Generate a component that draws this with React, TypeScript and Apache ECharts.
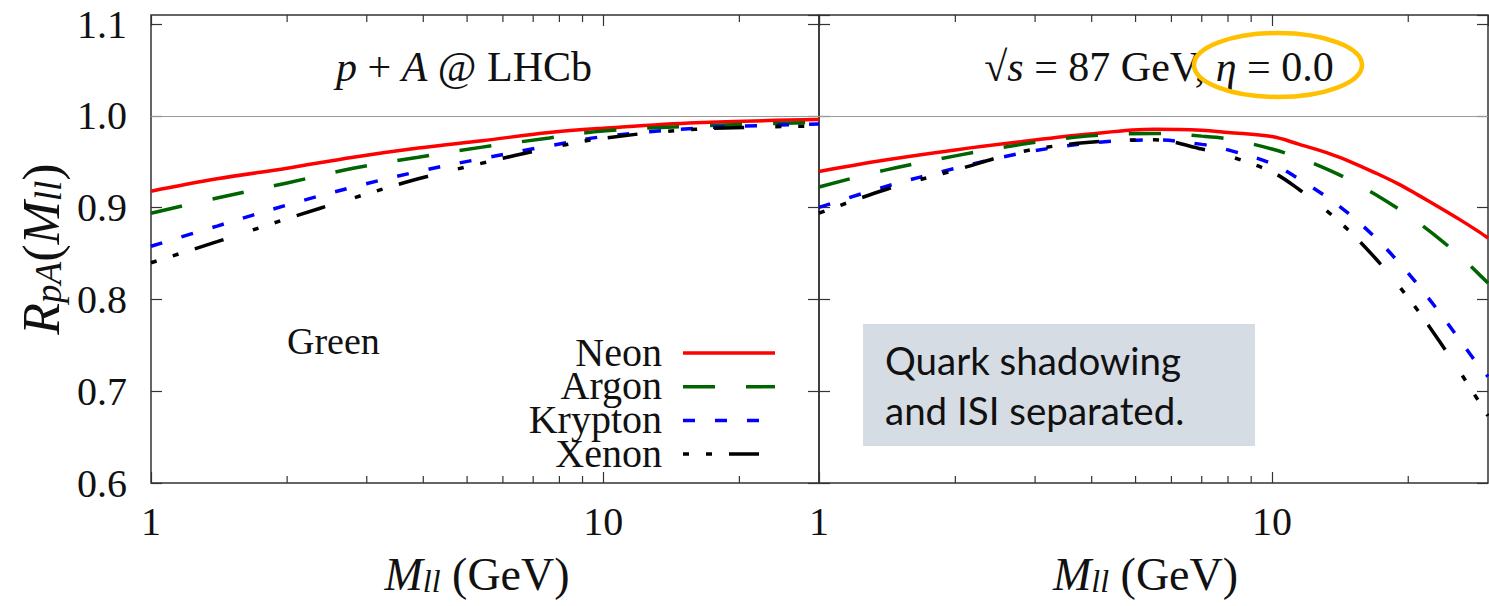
import React, { useEffect, useRef } from 'react';
import * as echarts from 'echarts';

// ---------- data ----------
const xLeft = [1, 1.4, 2, 2.8, 3.9, 5.4, 7.6, 10, 16, 30];
const neonLeft = [0.918, 0.9315, 0.943, 0.955, 0.965, 0.973, 0.982, 0.9866, 0.9927, 0.996];
const argonLeft = [0.894, 0.9105, 0.927, 0.943, 0.955, 0.966, 0.976, 0.9837, 0.989, 0.993];
const kryptonLeft = [0.858, 0.88, 0.903, 0.9225, 0.9395, 0.9536, 0.9674, 0.9775, 0.9866, 0.9913];
const xenonLeft = [0.84, 0.863, 0.888, 0.9105, 0.9315, 0.9486, 0.965, 0.9757, 0.9855, 0.989];

const xRight = [1, 1.4, 2, 2.8, 3.9, 5.5, 7, 8, 10, 11.5, 13.3, 15, 17, 19, 21, 23.5, 26, 28.5, 30];
const neonRight = [0.9395, 0.952, 0.963, 0.972, 0.98, 0.9855, 0.9845, 0.982, 0.9775, 0.969, 0.9594, 0.9495, 0.9375, 0.926, 0.914, 0.9, 0.887, 0.8745, 0.867];
const argonRight = [0.9225, 0.941, 0.9565, 0.969, 0.978, 0.981, 0.978, 0.975, 0.964, 0.9543, 0.9416, 0.9291, 0.9139, 0.8989, 0.8841, 0.8655, 0.8471, 0.8287, 0.8178];
const kryptonRight = [0.9003, 0.923, 0.943, 0.9594, 0.97, 0.974, 0.969, 0.963, 0.948, 0.931, 0.9107, 0.8909, 0.8664, 0.8412, 0.816, 0.7852, 0.7558, 0.729, 0.716];
const xenonRight = [0.894, 0.9196, 0.941, 0.961, 0.971, 0.974, 0.964, 0.9566, 0.939, 0.9196, 0.8955, 0.8721, 0.8438, 0.8157, 0.7879, 0.7537, 0.7212, 0.6905, 0.6731];

const seriesNames = ['Neon', 'Argon', 'Krypton', 'Xenon'];
const yTickLabels = ['0.6', '0.7', '0.8', '0.9', '1.0', '1.1'];
const minorTicks = [2, 3, 4, 5, 6, 7, 8, 9, 20];

const X_MIN = 1;
const X_MAX = 30;
const Y_MIN = 0.6;
const Y_MAX = 1.11;

// ---------- styles ----------
const SERIF = "'Liberation Serif', 'DejaVu Serif', serif";
const INK = '#111';
const FRAME = '#333';
const colors = ['#ff0000', '#006400', '#0000ff', '#000000'];
const dashes: any[] = ['solid', [32, 31], [12, 20], [6, 17, 6, 17, 30, 31]];

function richMath(main: number, sub: number) {
  return {
    i: { fontStyle: 'italic', fontFamily: SERIF, fontSize: main, lineHeight: main + 4, verticalAlign: 'bottom', color: INK },
    s: { fontStyle: 'italic', fontFamily: SERIF, fontSize: sub, lineHeight: sub - 4, verticalAlign: 'bottom', color: INK },
    n: { fontFamily: SERIF, fontSize: main, lineHeight: main + 4, verticalAlign: 'bottom', color: INK },
  };
}

function lineSeries(idx: number, xs: number[], ys: number[], panel: number) {
  const s: any = {
    type: 'line',
    name: seriesNames[idx],
    xAxisIndex: panel * 2,
    yAxisIndex: panel * 2,
    data: xs.map((x, i) => [x, ys[i]]),
    symbol: 'none',
    showSymbol: false,
    smooth: 0.35,
    silent: true,
    z: 3 + idx,
    itemStyle: { color: colors[idx] },
    lineStyle: { color: colors[idx], width: 3.5, type: dashes[idx], cap: 'butt' },
  };
  if (idx === 0) {
    s.markLine = {
      silent: true,
      symbol: 'none',
      label: { show: false },
      lineStyle: { color: '#999', width: 1, type: 'solid' },
      data: [{ yAxis: 1.0 }],
      z: 1,
    };
  }
  return s;
}

function minorTickSeries(panel: number) {
  return {
    type: 'custom',
    xAxisIndex: panel * 2,
    yAxisIndex: panel * 2,
    silent: true,
    z: 10,
    data: minorTicks.map((v) => [v, Y_MIN]),
    renderItem: (_p: any, api: any) => {
      const x = api.value(0);
      const b = api.coord([x, Y_MIN]);
      const t = api.coord([x, Y_MAX]);
      const st = { stroke: FRAME, lineWidth: 1.2 };
      return {
        type: 'group',
        children: [
          { type: 'line', shape: { x1: b[0], y1: b[1], x2: b[0], y2: b[1] - 7 }, style: st },
          { type: 'line', shape: { x1: t[0], y1: t[1], x2: t[0], y2: t[1] + 7 }, style: st },
        ],
      };
    },
  };
}

const tickStyle = { inside: true, length: 11, lineStyle: { color: FRAME, width: 1.2 } };

function xAxisDef(panel: number, top: boolean) {
  return {
    type: 'log',
    logBase: 10,
    gridIndex: panel,
    position: top ? 'top' : 'bottom',
    min: X_MIN,
    max: X_MAX,
    axisLine: { show: false },
    axisTick: tickStyle,
    splitLine: { show: false },
    axisLabel: {
      show: !top,
      showMaxLabel: false,
      margin: 18,
      fontFamily: SERIF,
      fontSize: 40,
      color: INK,
      formatter: (v: number) => {
        const l = Math.log10(v);
        return Math.abs(l - Math.round(l)) < 1e-6 ? String(Math.round(v)) : '';
      },
    },
    name: top ? '' : '{i|M}{s|ll}{n| (GeV)}',
    nameLocation: 'middle',
    nameGap: 64,
    nameTextStyle: { rich: richMath(46, 32), padding: [0, 16, 0, 0] },
  };
}

function yAxisDef(panel: number, right: boolean) {
  const labelled = panel === 0 && !right;
  return {
    type: 'value',
    gridIndex: panel,
    position: right ? 'right' : 'left',
    min: Y_MIN,
    max: Y_MAX,
    interval: 0.1,
    axisLine: { show: false },
    axisTick: tickStyle,
    splitLine: { show: false },
    axisLabel: {
      show: labelled,
      showMaxLabel: false,
      margin: 24,
      fontFamily: SERIF,
      fontSize: 40,
      color: INK,
      formatter: (v: number) => {
        const t = v.toFixed(1);
        return yTickLabels.includes(t) && Math.abs(v - Number(t)) < 1e-6 ? t : '';
      },
    },
    name: labelled ? '{i|R}{s|pA}{n|(}{i|M}{s|ll}{n|)}' : '',
    nameLocation: 'middle',
    nameRotate: 90,
    nameGap: 84,
    nameTextStyle: { rich: richMath(52, 37) },
  };
}

// legend layout (decoration, drawn as graphic)
const LEG_TEXT_RIGHT = 662;
const LEG_LINE_X0 = 683;
const LEG_LINE_X1 = 775;
const LEG_TOP = 353;
const LEG_PITCH = 33.7;

function legendGraphics() {
  const out: any[] = [];
  seriesNames.forEach((name, i) => {
    const y = LEG_TOP + i * LEG_PITCH;
    out.push({
      type: 'text', x: LEG_TEXT_RIGHT, y: y - 1, z: 20,
      style: { text: name, textAlign: 'right', textVerticalAlign: 'middle', fontFamily: SERIF, fontSize: 40, lineHeight: 33, fill: INK },
    });
    out.push({
      type: 'line', z: 20,
      shape: { x1: LEG_LINE_X0, y1: y, x2: LEG_LINE_X1, y2: y },
      style: { stroke: colors[i], lineWidth: 3.5, lineDash: dashes[i] === 'solid' ? null : dashes[i], lineCap: 'butt' },
    });
  });
  return out;
}

export default function App() {
  const ref = useRef<HTMLDivElement>(null);
  useEffect(() => {
    if (!ref.current) return;
    const chart = echarts.init(ref.current, undefined, { renderer: 'svg' });
    const option: any = {
      animation: false,
      backgroundColor: '#fff',
      textStyle: { fontFamily: SERIF },
      grid: [
        { left: 151, top: 15, width: 668, height: 468, show: true, borderColor: FRAME, borderWidth: 1.5, backgroundColor: 'transparent' },
        { left: 819, top: 15, width: 669, height: 468, show: true, borderColor: FRAME, borderWidth: 1.5, backgroundColor: 'transparent' },
      ],
      xAxis: [xAxisDef(0, false), xAxisDef(0, true), xAxisDef(1, false), xAxisDef(1, true)],
      yAxis: [yAxisDef(0, false), yAxisDef(0, true), yAxisDef(1, false), yAxisDef(1, true)],
      series: [
        lineSeries(0, xLeft, neonLeft, 0),
        lineSeries(1, xLeft, argonLeft, 0),
        lineSeries(2, xLeft, kryptonLeft, 0),
        lineSeries(3, xLeft, xenonLeft, 0),
        lineSeries(0, xRight, neonRight, 1),
        lineSeries(1, xRight, argonRight, 1),
        lineSeries(2, xRight, kryptonRight, 1),
        lineSeries(3, xRight, xenonRight, 1),
        minorTickSeries(0),
        minorTickSeries(1),
      ],
      graphic: [
        {
          type: 'text', x: 464, y: 67, z: 20,
          style: { text: '{i|p} + {i|A} @ LHCb', textAlign: 'center', textVerticalAlign: 'middle', fontFamily: SERIF, fontSize: 42, fill: INK, rich: { i: { fontStyle: 'italic', fontFamily: SERIF, fontSize: 42 } } },
        },
        {
          type: 'text', x: 1159, y: 67, z: 20,
          style: { text: '√{i|s} = 87 GeV, {i|η} = 0.0', textAlign: 'center', textVerticalAlign: 'middle', fontFamily: SERIF, fontSize: 42, fill: INK, rich: { i: { fontStyle: 'italic', fontFamily: SERIF, fontSize: 42 } } },
        },
        {
          type: 'ellipse', z: 21,
          shape: { cx: 1278, cy: 65, rx: 84, ry: 32 },
          style: { fill: 'none', stroke: '#FFC000', lineWidth: 4.5 },
        },
        {
          type: 'text', x: 287, y: 341, z: 20,
          style: { text: 'Green', textAlign: 'left', textVerticalAlign: 'middle', fontFamily: SERIF, fontSize: 38, fill: INK },
        },
        ...legendGraphics(),
        {
          type: 'rect', z: 20,
          shape: { x: 863, y: 324, width: 392, height: 122 },
          style: { fill: '#D6DCE4' },
        },
        {
          type: 'text', x: 885, y: 335, z: 21,
          style: { text: 'Quark shadowing\nand ISI separated.', textAlign: 'left', textVerticalAlign: 'top', fontFamily: 'Lato, "Open Sans", sans-serif', fontSize: 38.5, lineHeight: 50, fill: '#111' },
        },
      ],
    };
    chart.setOption(option);
    return () => chart.dispose();
  }, []);
  return <div ref={ref} style={{ position: 'fixed', left: 0, top: 0, width: 1489, height: 606, background: '#fff' }} />;
}
